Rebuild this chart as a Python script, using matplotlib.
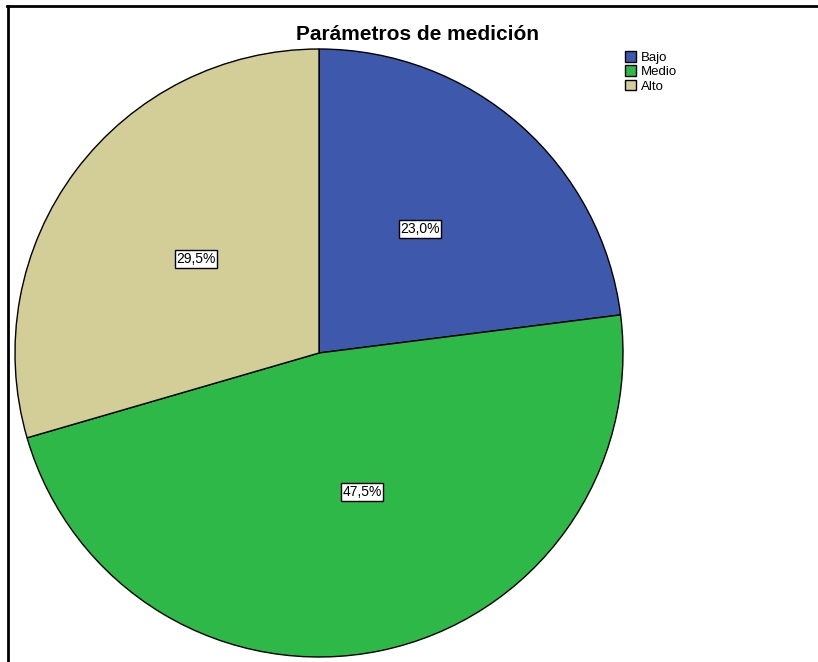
import matplotlib.pyplot as plt
from matplotlib.lines import Line2D

plt.rcParams['font.family'] = ['Liberation Sans', 'DejaVu Sans']

niveles = ['Bajo', 'Medio', 'Alto']
porcentajes = [23.0, 47.5, 29.5]
colores = ['#3e58ac', '#2eb848', '#d3ce97']

W, H = 818, 662
fig = plt.figure(figsize=(W / 100, H / 100), dpi=100)
ax = fig.add_axes([0, 0, 1, 1])

# pie drawn in pixel units, clockwise from the top
wedges, _ = ax.pie(porcentajes, colors=colores, startangle=90, counterclock=False,
                   center=(319, H - 353), radius=304, frame=True,
                   wedgeprops=dict(edgecolor='black', linewidth=1.0))
ax.set_xlim(0, W)
ax.set_ylim(0, H)
ax.axis('off')

# value labels inside each slice
posiciones = [(420, 229), (362, 492), (196, 259)]
for p, (x, y) in zip(porcentajes, posiciones):
    ax.text(x, H - y, f'{p:.1f}%'.replace('.', ','), ha='center', va='center',
            fontsize=10,
            bbox=dict(boxstyle='square,pad=0.12', fc='white', ec='black', lw=1))

ax.text(418, H - 34, 'Parámetros de medición', ha='center', va='center',
        fontsize=15, fontweight='bold')

# top and left frame lines
ax.add_line(Line2D([7, W], [H - 6, H - 6], color='black', lw=2))
ax.add_line(Line2D([7.5, 7.5], [0, H - 6], color='black', lw=2))

leg = ax.legend(wedges, niveles, loc='upper left', bbox_to_anchor=(625 / W, 1 - 51 / H),
                frameon=False, fontsize=9.5, handlelength=0.85, handleheight=0.85,
                handletextpad=0.35, labelspacing=0.12, borderpad=0, borderaxespad=0)

fig.savefig('out.png', dpi=100)
